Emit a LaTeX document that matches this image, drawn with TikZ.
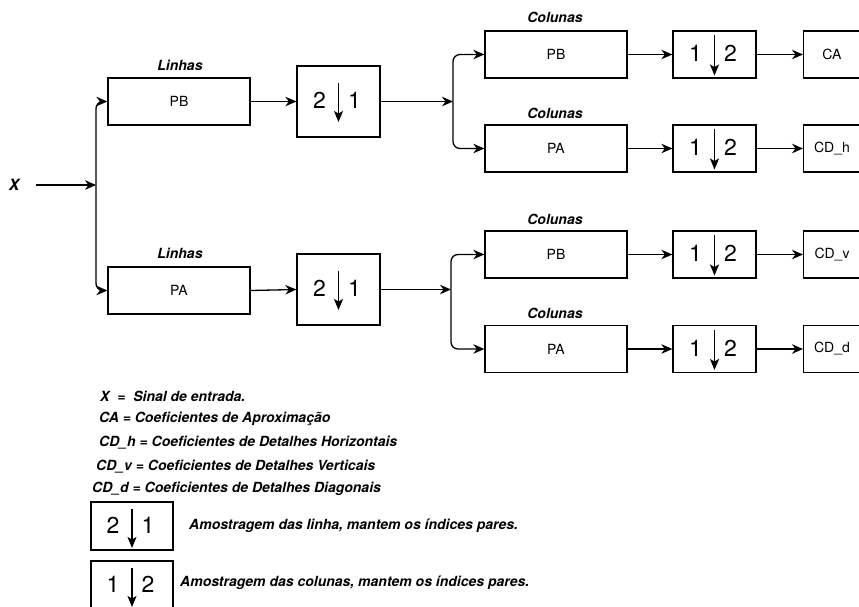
\documentclass[tikz,border=0pt]{standalone}
\usepackage{fontspec}
\setmainfont{TeX Gyre Heros}
\usetikzlibrary{arrows.meta}

\tikzset{
  wire/.style={line width=1.3pt, line join=round},
  arr/.style={wire, -{Stealth[length=11pt,width=9.5pt,inset=3.5pt]}, rounded corners=7pt},
  filt/.style={draw, line width=1.3pt, minimum width=142pt, minimum height=47pt,
               inner sep=0pt, font=\fontsize{14}{16}\selectfont},
  dsbox/.style={draw, line width=1.3pt, minimum width=83pt, inner sep=0pt},
  outbox/.style={draw, line width=1.3pt, minimum width=90pt, minimum height=47pt,
                 inner sep=0pt, anchor=west},
  outtxt/.style={font=\fontsize{14}{16}\selectfont},
  tag/.style={font=\fontsize{14}{16}\selectfont\bfseries\itshape},
  legend/.style={anchor=west, inner sep=0pt, font=\fontsize{14}{16}\selectfont\bfseries\itshape},
  digit/.style={inner sep=0pt, font=\fontsize{23}{26}\selectfont},
  darr/.style={line width=1.3pt, -{Stealth[length=11pt,width=9pt,inset=2.5pt]}}
}

% digits and the down arrow inside a sampling box
% #1 node, #2 left digit, #3 right digit, #4/#5 arrow start/end offsets (upwards positive)
\newcommand{\sampmark}[5]{%
  \node[digit] at ([xshift=-19pt,yshift=1pt]#1.center) {#2};
  \node[digit] at ([xshift=16pt,yshift=1pt]#1.center) {#3};
  \draw[darr] ([yshift=#4]#1.center) -- ([yshift=#5]#1.center);
}

\begin{document}
\begin{tikzpicture}[x=1pt,y=-1pt]
\path[use as bounding box] (0,0) rectangle (859,606);
\clip (0,0) rectangle (859,606);

% input
\node[font=\fontsize{15.5}{18}\selectfont\bfseries\itshape, inner sep=0pt] (x) at (14,185) {X};
\coordinate (j1) at (96,185);

% row filters
\node[filt] (lpb) at (179,101.5) {PB};
\node[filt] (lpa) at (179,290.5) {PA};
\node[tag] (tl1) at (180,65) {Linhas};
\node[tag] (tl2) at (180,253) {Linhas};

% row down-sampling
\node[dsbox, minimum height=71pt] (d1) at (338.5,101.5) {};
\node[dsbox, minimum height=71pt] (d2) at (338.5,289.5) {};
\sampmark{d1}{2}{1}{18.5pt}{-20.5pt}
\sampmark{d2}{2}{1}{18.5pt}{-20.5pt}

% column branches
\coordinate (j2) at (453,101.5);
\coordinate (j3) at (451,289.5);

\node[filt] (cpb1) at (556,54.5) {PB};
\node[filt] (cpa1) at (556,148.5) {PA};
\node[filt] (cpb2) at (556,254.5) {PB};
\node[filt] (cpa2) at (556,349) {PA};
\node[tag] (tc1) at (555,17) {Colunas};
\node[tag] (tc2) at (555,113) {Colunas};
\node[tag] (tc3) at (555,219) {Colunas};
\node[tag] (tc4) at (555,313) {Colunas};

% column down-sampling
\node[dsbox, minimum height=47pt] (u1) at (714.5,54.5) {};
\node[dsbox, minimum height=47pt] (u2) at (714.5,148.5) {};
\node[dsbox, minimum height=47pt] (u3) at (714.5,254.5) {};
\node[dsbox, minimum height=47pt] (u4) at (714.5,349) {};
\sampmark{u1}{1}{2}{19.5pt}{-21pt}
\sampmark{u2}{1}{2}{19.5pt}{-21pt}
\sampmark{u3}{1}{2}{19.5pt}{-21pt}
\sampmark{u4}{1}{2}{19.5pt}{-21pt}

% outputs
\node[outbox] (o1) at (803,54.5) {};
\node[outbox] (o2) at (803,148.5) {};
\node[outbox] (o3) at (803,254.5) {};
\node[outbox] (o4) at (803,349) {};
\node[outtxt] at (832,54.5) {CA};
\node[outtxt] at (832,148.5) {CD\_h};
\node[outtxt] at (832,254.5) {CD\_v};
\node[outtxt] at (832,349) {CD\_d};

% connectors
\draw[arr] ([xshift=17pt]x.east) -- (j1);
\draw[arr] (j1) |- (lpb.west);
\draw[arr] (j1) |- (lpa.west);
\draw[arr] (lpb.east) -- (d1.west);
\draw[arr] (lpa.east) -- (d2.west);
\draw[arr] (d1.east) -- (j2);
\draw[arr] (d2.east) -- (j3);
\draw[arr] (j2) |- (cpb1.west);
\draw[arr] (j2) |- (cpa1.west);
\draw[arr] (j3) |- (cpb2.west);
\draw[arr] (j3) |- (cpa2.west);
\draw[arr] (cpb1.east) -- (u1.west);
\draw[arr] (cpa1.east) -- (u2.west);
\draw[arr] (cpb2.east) -- (u3.west);
\draw[arr] (cpa2.east) -- (u4.west);
\draw[arr] (u1.east) -- (o1.west);
\draw[arr] (u2.east) -- (o2.west);
\draw[arr] (u3.east) -- (o3.west);
\draw[arr] (u4.east) -- (o4.west);

% legend
\node[legend] (k1) at (100,396) {X\ \ =\ \ Sinal de entrada.};
\node[legend] (k2) at (99,419) {CA = Coeficientes de Aproximação};
\node[legend] (k3) at (99,443) {CD\_h = Coeficientes de Detalhes Horizontais};
\node[legend] (k4) at (96,467) {CD\_v = Coeficientes de Detalhes Verticais};
\node[legend] (k5) at (92,489) {CD\_d = Coeficientes de Detalhes Diagonais};

\node[dsbox, minimum width=82pt, minimum height=48pt] (ls1) at (132,526) {};
\sampmark{ls1}{2}{1}{17pt}{-22pt}
\node[legend] (kt1) at (189,526) {Amostragem das linha, mantem os índices pares.};

\node[dsbox, minimum width=82pt, minimum height=48pt] (ls2) at (132,585) {};
\sampmark{ls2}{1}{2}{17pt}{-22pt}
\node[legend] (kt2) at (180,583) {Amostragem das colunas, mantem os índices pares.};
\end{tikzpicture}
\end{document}
